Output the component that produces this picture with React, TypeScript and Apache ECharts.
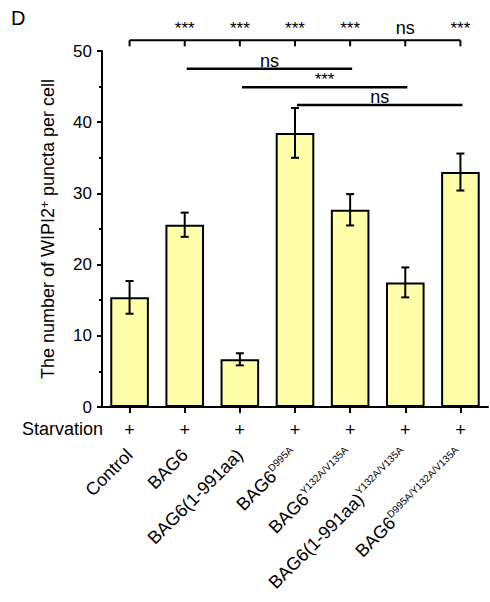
import React, { useEffect, useRef } from "react";
import * as echarts from "echarts";

// ---- data ----
const baseNames = ["Control", "BAG6", "BAG6(1-991aa)", "BAG6", "BAG6", "BAG6(1-991aa)", "BAG6"];
const superscripts = ["", "", "", "D995A", "Y132A/V135A", "Y132A/V135A", "D995A/Y132A/V135A"];
const categories = baseNames.map((b, i) => (superscripts[i] ? `${b} ${superscripts[i]}` : b));
const means = [15.4, 25.6, 6.7, 38.5, 27.7, 17.5, 33.0];
const errors = [2.3, 1.7, 0.85, 3.5, 2.2, 2.1, 2.6];
const starvation = ["+", "+", "+", "+", "+", "+", "+"];
const controlComparisons = ["", "***", "***", "***", "***", "ns", "***"];
const controlBracketLevel = 51.5;
const pairStart = [1, 2, 3];
const pairEnd = [4, 5, 6];
const pairLevel = [47.5, 44.9, 42.4];
const pairLabel = ["ns", "***", "ns"];
const yMin = 0;
const yMax = 50;
const yInterval = 10;
const yAxisTitle = "The number of WIPI2{sup|+} puncta per cell";
const panelLetter = "D";
const rowLabel = "Starvation";

const FONT = "'Liberation Sans', Arial, Helvetica, sans-serif";
const BAR_COLOR = "#FFFFAA";

function sigStyle(label: string) {
  return label === "ns"
    ? { fontSize: 18, fontFamily: FONT, fill: "#000" }
    : { fontSize: 17, fontFamily: FONT, fill: "#000" };
}

export default function App() {
  const ref = useRef<HTMLDivElement>(null);
  useEffect(() => {
    if (!ref.current) return;
    const chart = echarts.init(ref.current, undefined, { renderer: "svg" });
    const option: any = {
      animation: false,
      backgroundColor: "#fff",
      grid: { left: 102, right: 2, top: 51, bottom: 195, containLabel: false },
      graphic: [
        {
          type: "text",
          left: 11,
          top: 8,
          style: { text: panelLetter, fontSize: 20, fontFamily: FONT, fill: "#000" },
        },
        {
          type: "text",
          left: 22,
          top: 420,
          style: { text: rowLabel, fontSize: 18, fontFamily: FONT, fill: "#000" },
        },
      ],
      xAxis: {
        type: "category",
        data: categories,
        axisLine: { show: true, lineStyle: { color: "#000", width: 2 } },
        axisTick: { show: true, alignWithLabel: true, length: 6, lineStyle: { color: "#000", width: 2 } },
        axisLabel: {
          interval: 0,
          rotate: 45,
          margin: 45,
          color: "#000",
          fontFamily: FONT,
          formatter: (_v: string, i: number) =>
            superscripts[i] ? `{b|${baseNames[i]}}{sup|${superscripts[i]}}` : `{b|${baseNames[i]}}`,
          rich: {
            b: { fontSize: 18, fontFamily: FONT, color: "#000", lineHeight: 21, verticalAlign: "middle" },
            sup: { fontSize: 10, fontFamily: FONT, color: "#000", lineHeight: 12, verticalAlign: "top" },
          },
        },
        splitLine: { show: false },
      },
      yAxis: {
        type: "value",
        min: yMin,
        max: yMax,
        interval: yInterval,
        name: yAxisTitle,
        nameLocation: "middle",
        nameGap: 45,
        nameTextStyle: {
          fontSize: 18,
          fontFamily: FONT,
          color: "#000",
          rich: {
            sup: { fontSize: 12, fontFamily: FONT, color: "#000", verticalAlign: "top", lineHeight: 12 },
          },
        },
        axisLine: { show: true, lineStyle: { color: "#000", width: 2 } },
        axisTick: { show: true, length: 5, lineStyle: { color: "#000", width: 2 } },
        minorTick: { show: true, splitNumber: 2, length: 3, lineStyle: { color: "#000", width: 2 } },
        axisLabel: { fontSize: 17, fontFamily: FONT, color: "#000", margin: 10 },
        splitLine: { show: false },
        minorSplitLine: { show: false },
      },
      series: [
        {
          type: "bar",
          data: means,
          barCategoryGap: "30%",
          itemStyle: { color: BAR_COLOR, borderColor: "#000", borderWidth: 2 },
          z: 2,
        },
        {
          type: "custom",
          name: "errors",
          clip: false,
          z: 3,
          data: means.map((m, i) => [i, m, errors[i]]),
          renderItem: (_p: any, api: any) => {
            const i = api.value(0);
            const m = api.value(1);
            const e = api.value(2);
            const hi = api.coord([i, m + e]);
            const lo = api.coord([i, m - e]);
            const cap = 4;
            const ls = { stroke: "#000", lineWidth: 2 };
            return {
              type: "group",
              children: [
                { type: "line", shape: { x1: hi[0], y1: hi[1], x2: lo[0], y2: lo[1] }, style: ls },
                { type: "line", shape: { x1: hi[0] - cap, y1: hi[1], x2: hi[0] + cap, y2: hi[1] }, style: ls },
                { type: "line", shape: { x1: lo[0] - cap, y1: lo[1], x2: lo[0] + cap, y2: lo[1] }, style: ls },
              ],
            };
          },
        },
        {
          type: "custom",
          name: "starvation",
          clip: false,
          data: starvation.map((s, i) => [i, 0]),
          renderItem: (p: any, api: any) => {
            const c = api.coord([api.value(0), 0]);
            return {
              type: "text",
              style: {
                text: starvation[p.dataIndex],
                x: c[0],
                y: c[1] + 23,
                align: "center",
                verticalAlign: "middle",
                fontSize: 18,
                fontFamily: FONT,
                fill: "#000",
              },
            };
          },
        },
        {
          type: "custom",
          name: "controlBracket",
          clip: false,
          data: categories.map((_c, i) => [i, controlBracketLevel]),
          renderItem: (p: any, api: any) => {
            const i = api.value(0);
            const lvl = api.value(1);
            const c = api.coord([i, lvl]);
            const ls = { stroke: "#000", lineWidth: 2 };
            const children: any[] = [
              { type: "line", shape: { x1: c[0], y1: c[1], x2: c[0], y2: c[1] + 6 }, style: ls },
            ];
            if (i < categories.length - 1) {
              const n = api.coord([i + 1, lvl]);
              children.push({ type: "line", shape: { x1: c[0], y1: c[1], x2: n[0], y2: n[1] }, style: ls });
            }
            const lab = controlComparisons[p.dataIndex];
            if (lab) {
              children.push({
                type: "text",
                style: {
                  ...sigStyle(lab),
                  text: lab,
                  x: c[0],
                  y: c[1] - 3,
                  align: "center",
                  verticalAlign: "bottom",
                },
              });
            }
            return { type: "group", children };
          },
        },
        {
          type: "custom",
          name: "pairBrackets",
          clip: false,
          data: pairStart.map((s, k) => [s, pairEnd[k], pairLevel[k]]),
          renderItem: (p: any, api: any) => {
            const a = api.coord([api.value(0), api.value(2)]);
            const b = api.coord([api.value(1), api.value(2)]);
            const lab = pairLabel[p.dataIndex];
            return {
              type: "group",
              children: [
                { type: "line", shape: { x1: a[0] + 2, y1: a[1], x2: b[0] + 2, y2: b[1] }, style: { stroke: "#000", lineWidth: 2.5 } },
                {
                  type: "text",
                  style: {
                    ...sigStyle(lab),
                    text: lab,
                    x: (a[0] + b[0]) / 2 + 2,
                    y: a[1] + 1,
                    align: "center",
                    verticalAlign: "bottom",
                  },
                },
              ],
            };
          },
        },
      ],
    };
    chart.setOption(option);
    return () => chart.dispose();
  }, []);
  return (
    <div
      ref={ref}
      style={{ position: "fixed", left: 0, top: 0, width: 490, height: 602, background: "#fff" }}
    />
  );
}
